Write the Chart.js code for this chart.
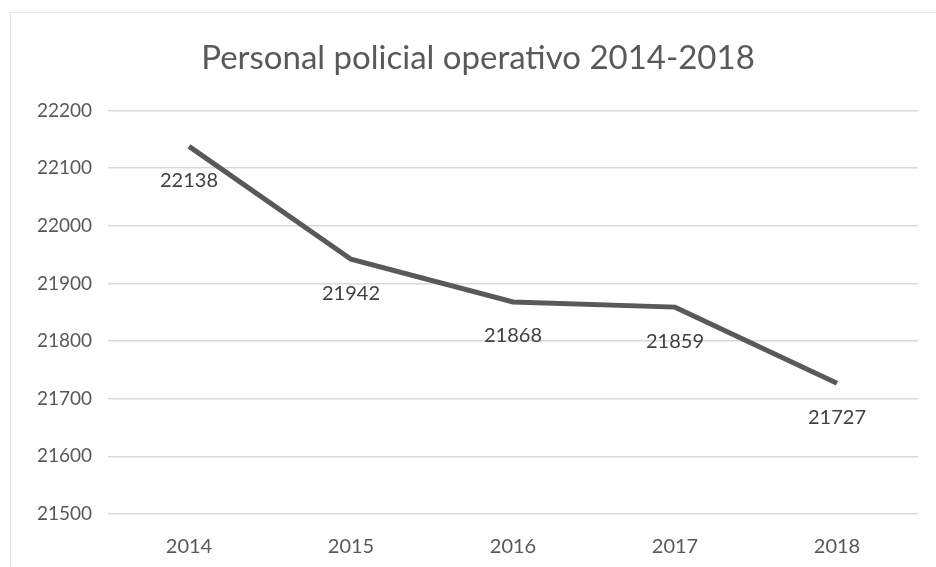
<!DOCTYPE html>
<html>
<head>
<meta charset="utf-8">
<script src="https://cdn.jsdelivr.net/npm/chart.js@4/dist/chart.umd.min.js"></script>
<style>
  html, body { margin: 0; padding: 0; background: #fff; }
  #wrap { position: relative; width: 936px; height: 567px; overflow: hidden; }
  #frame { position: absolute; left: 10px; top: 12px; width: 1000px; height: 700px; border: 1px solid #e3e3e3; }
  canvas { position: absolute; left: 0; top: 0; }
</style>
</head>
<body>
<div id="wrap">
  <div id="frame"></div>
  <canvas id="policeChart" width="936" height="567"></canvas>
</div>
<script>
// Personal policial operativo
const years = ['2014', '2015', '2016', '2017', '2018'];
const officers = [22138, 21942, 21868, 21859, 21727];
const yTicks = [21500, 21600, 21700, 21800, 21900, 22000, 22100, 22200];

const textColor = '#595959';
const fontFamily = 'Lato, "Noto Sans", sans-serif';

// value labels under each point
const valueLabels = {
    id: 'valueLabels',
    afterDatasetsDraw(chart) {
        const ctx = chart.ctx;
        const meta = chart.getDatasetMeta(0);
        ctx.save();
        ctx.font = '20px ' + fontFamily;
        ctx.fillStyle = '#404040';
        ctx.textAlign = 'center';
        ctx.textBaseline = 'middle';
        meta.data.forEach((pt, i) => {
            ctx.fillText(String(officers[i]), pt.x, pt.y + 34);
        });
        ctx.restore();
    }
};

new Chart(document.getElementById('policeChart'), {
    type: 'line',
    data: {
        labels: years,
        datasets: [{
            data: officers,
            borderColor: '#595959',
            borderWidth: 5,
            pointRadius: 0,
            tension: 0,
            fill: false,
        }]
    },
    options: {
        responsive: false,
        animation: false,
        layout: { padding: { left: 38, right: 18, top: 0, bottom: 9 } },
        plugins: {
            legend: { display: false },
            tooltip: { enabled: false },
            title: {
                display: true,
                text: 'Personal policial operativo 2014-2018',
                color: textColor,
                font: { family: fontFamily, size: 33, weight: 'normal' },
                padding: { top: 39, bottom: 32 }
            }
        },
        scales: {
            x: {
                offset: true,
                afterFit: s => { s.height = 44; },
                grid: { display: false, drawTicks: false },
                border: { display: false },
                ticks: { color: textColor, padding: 21, maxRotation: 0, font: { family: fontFamily, size: 20 } }
            },
            y: {
                min: 21500,
                max: 22200,
                afterBuildTicks: s => { s.ticks = yTicks.map(v => ({ value: v })); },
                afterFit: s => { s.width = 70; },
                grid: { color: '#d9d9d9', lineWidth: 1.5, drawTicks: false },
                border: { display: false },
                ticks: {
                    color: textColor, padding: 16,
                    font: { family: fontFamily, size: 19 },
                    callback: v => String(v)
                }
            }
        }
    },
    plugins: [valueLabels]
});
</script>
</body>
</html>
